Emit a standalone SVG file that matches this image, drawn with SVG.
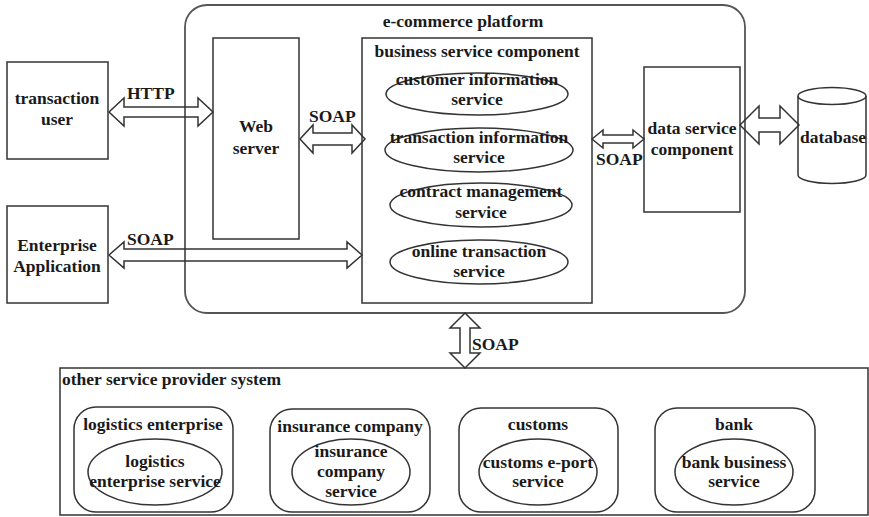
<svg xmlns="http://www.w3.org/2000/svg" width="869" height="517" viewBox="0 0 869 517">
<style>
text{font-family:"Liberation Serif","Times New Roman",serif;font-weight:bold;font-size:17.5px;fill:#1a1a1a;text-anchor:middle}
.lbl{text-anchor:start}
.box{fill:#fff;stroke:#333;stroke-width:1.5}
.plat{fill:#fff;stroke:#555;stroke-width:1.8}
.ell{fill:none;stroke:#333;stroke-width:1.5}
.arr{fill:none;stroke:#333;stroke-width:1.5;stroke-linejoin:miter}
</style>
<rect width="869" height="517" fill="#fff"/>
<g id="platform">
<rect class="plat" x="185" y="5" width="560" height="308" rx="22"/>
<text x="463" y="27">e-commerce platform</text>
</g>
<g id="transaction-user">
<rect class="box" x="7" y="62" width="101" height="97"/>
<text x="57" y="104">transaction</text>
<text x="57" y="125">user</text>
</g>
<g id="enterprise-app">
<rect class="box" x="7" y="206" width="101" height="97"/>
<text x="57" y="251">Enterprise</text>
<text x="57" y="272">Application</text>
</g>
<g id="web-server">
<rect class="box" x="213" y="38" width="86" height="201"/>
<text x="256" y="132">Web</text>
<text x="256" y="154">server</text>
</g>
<g id="business">
<rect class="box" x="362" y="38" width="230" height="265"/>
<text x="477" y="57">business service component</text>
<g id="svc-customer">
<ellipse class="ell" cx="477" cy="94" rx="91" ry="21"/>
<text x="477" y="85">customer information</text>
<text x="477" y="105">service</text>
</g>
<g id="svc-transaction">
<ellipse class="ell" cx="479" cy="150" rx="94" ry="22"/>
<text x="479" y="143">transaction information</text>
<text x="479" y="163">service</text>
</g>
<g id="svc-contract">
<ellipse class="ell" cx="481" cy="205" rx="91" ry="22"/>
<text x="481" y="197">contract management</text>
<text x="481" y="218">service</text>
</g>
<g id="svc-online">
<ellipse class="ell" cx="479" cy="262" rx="89" ry="22"/>
<text x="479" y="257">online transaction</text>
<text x="479" y="277">service</text>
</g>
</g>
<g id="data-service">
<rect class="box" x="644" y="67" width="96" height="145"/>
<text x="692" y="134">data service</text>
<text x="692" y="155">component</text>
</g>
<g id="database">
<path class="box" d="M798 96 L798 175 A34 8.5 0 0 0 866 175 L866 96"/>
<ellipse class="box" cx="832" cy="96" rx="34" ry="8.5"/>
<text x="833" y="143">database</text>
</g>
<g id="other-system">
<rect class="box" x="60" y="368" width="808" height="147"/>
<text class="lbl" x="62" y="385">other service provider system</text>
<g id="logistics">
<rect class="box" x="74" y="407" width="159" height="105" rx="22"/>
<text x="153" y="430">logistics enterprise</text>
<ellipse class="ell" cx="155" cy="472" rx="67" ry="33"/>
<text x="155" y="467">logistics</text>
<text x="155" y="487">enterprise service</text>
</g>
<g id="insurance">
<rect class="box" x="270" y="409" width="160" height="103" rx="22"/>
<text x="350" y="432">insurance company</text>
<ellipse class="ell" cx="351" cy="472" rx="59" ry="33"/>
<text x="351" y="457">insurance</text>
<text x="351" y="477">company</text>
<text x="351" y="497">service</text>
</g>
<g id="customs">
<rect class="box" x="459" y="408" width="159" height="104" rx="22"/>
<text x="538" y="430">customs</text>
<ellipse class="ell" cx="538" cy="472" rx="59" ry="33"/>
<text x="538" y="468">customs e-port</text>
<text x="538" y="487">service</text>
</g>
<g id="bank">
<rect class="box" x="655" y="408" width="160" height="104" rx="22"/>
<text x="734" y="430">bank</text>
<ellipse class="ell" cx="734" cy="472" rx="59" ry="33"/>
<text x="734" y="468">bank business</text>
<text x="734" y="487">service</text>
</g>
</g>
<g id="connectors">
<path class="arr" d="M109 112 L124 98 L124 107 L198 107 L198 98 L213 112 L198 126 L198 117 L124 117 L124 126 Z"/>
<text class="lbl" x="127" y="99">HTTP</text>
<path class="arr" d="M300 139 L313 125 L313 133 L352 133 L352 125 L365 139 L352 153 L352 145 L313 145 L313 153 Z"/>
<text class="lbl" x="309" y="122">SOAP</text>
<path class="arr" d="M109 255 L124 242 L124 249 L347 249 L347 242 L362 255 L347 268 L347 261 L124 261 L124 268 Z"/>
<text class="lbl" x="127" y="245">SOAP</text>
<path class="arr" d="M592 139 L603 130 L603 135 L633 135 L633 130 L644 139 L633 148 L633 143 L603 143 L603 148 Z"/>
<text class="lbl" x="596" y="165">SOAP</text>
<path class="arr" d="M740 125 L759 106 L759 118 L780 118 L780 106 L799 125 L780 144 L780 132 L759 132 L759 144 Z"/>
<path class="arr" d="M465 313 L480 328 L470 328 L470 353 L480 353 L465 368 L450 353 L460 353 L460 328 L450 328 Z"/>
<text class="lbl" x="472" y="350">SOAP</text>
</g>
</svg>
